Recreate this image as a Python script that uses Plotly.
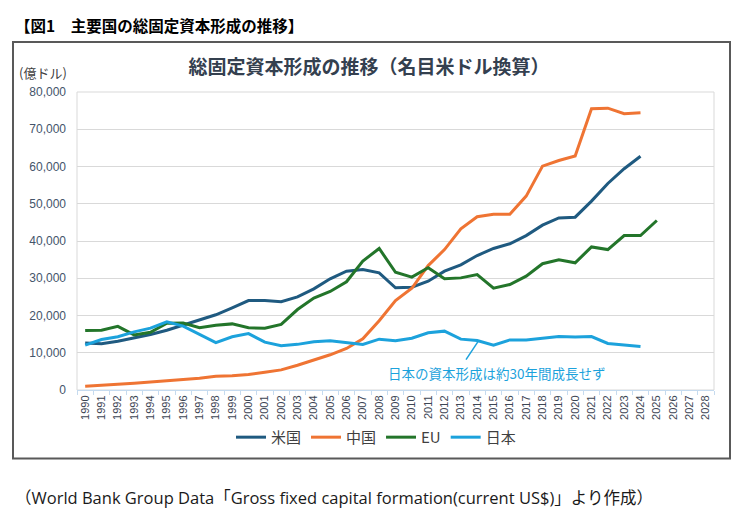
import plotly.graph_objects as go

# categories on the x axis (1990-2028)
years = [str(y) for y in range(1990, 2029)]

# gross fixed capital formation, 100 million US$
us = [12600, 12400, 13100, 13900, 14900, 16050, 17400, 18750, 20200, 22050,
      24000, 24050, 23700, 25000, 27150, 29850, 31900, 32350, 31450, 27450,
      27600, 29200, 31900, 33600, 36100, 38000, 39250, 41450, 44250, 46200,
      46400, 50700, 55450, 59400, 62750]
china = [1020, 1200, 1550, 1830, 2100, 2550, 2820, 3170, 3700, 3800,
         4150, 4780, 5400, 6650, 8100, 9450, 11150, 13750, 18600, 24000,
         27300, 33400, 37700, 43250, 46500, 47200, 47200, 52050, 60100, 61600,
         62800, 75500, 75650, 74150, 74400]
eu = [15950, 16050, 17100, 14800, 15500, 17950, 18000, 16700, 17400, 17750,
      16700, 16600, 17600, 21600, 24700, 26450, 29050, 34600, 38000, 31600,
      30300, 32800, 29850, 30100, 31000, 27350, 28300, 30550, 33900, 34950,
      34150, 38400, 37700, 41450, 41450, 45500]
japan = [12050, 13550, 14300, 15600, 16600, 18300, 17150, 14900, 12700, 14300,
         15150, 12850, 11900, 12250, 12950, 13200, 12700, 12250, 13650, 13200,
         13900, 15350, 15800, 13650, 13300, 12050, 13450, 13450, 13900, 14350,
         14200, 14350, 12500, 12200, 11700]

series = [
    ('米国', us, '#1f5a80'),
    ('中国', china, '#ef7433'),
    ('EU', eu, '#23752a'),
    ('日本', japan, '#1ca2dc'),
]

# the page puts the figure 8px in from the top-left corner
OFF = 8
W, H = 752 - OFF, 520 - OFF
L, R, T, B = 77 - OFF, 714 - OFF, 92 - OFF, 390.5 - OFF


def px(x):
    return (x - OFF - L) / (R - L)


def py(y):
    return (B - (y - OFF)) / (B - T)


jp = 'Noto Sans CJK JP'

fig = go.Figure()
for name, vals, col in series:
    fig.add_trace(go.Scatter(
        x=years[:len(vals)], y=vals, name=name, mode='lines',
        line=dict(color=col, width=3),
    ))

fig.update_layout(
    width=W, height=H,
    margin=dict(l=L, r=W - R, t=T, b=H - B),
    paper_bgcolor='white', plot_bgcolor='white',
    font=dict(family=jp, color='#404040'),
    title=dict(text='総固定資本形成の推移（名目米ドル換算）', x=(369 - OFF) / W, y=1 - (67 - OFF) / H,
               xanchor='center', yanchor='middle',
               font=dict(size=19, color='#34404f', family=jp, weight='bold')),
    showlegend=True,
    legend=dict(orientation='h', x=px(376), y=py(438), xanchor='center', yanchor='middle',
                font=dict(size=15, color='#404040', family=jp), itemwidth=30,
                bgcolor='rgba(0,0,0,0)'),
)

fig.update_xaxes(
    type='category', categoryorder='array', categoryarray=years,
    range=[-0.5, len(years) - 0.5],
    tickangle=-90, tickfont=dict(size=11, color='#3d4654', family='Liberation Sans'),
    showgrid=False, showline=True, linecolor='#c6dbef', linewidth=1,
    ticks='outside', tickson='boundaries', ticklen=4, tickcolor='#c6dbef',
)
fig.update_yaxes(
    range=[0, 80000], dtick=10000, tickformat=',',
    tickfont=dict(size=12, color='#44546a', family='Liberation Sans'),
    showgrid=True, gridcolor='#d9d9d9', gridwidth=1,
    zeroline=False, showline=False, ticklabelstandoff=10,
)

# plot-area border and outer frame
fig.add_shape(type='rect', xref='paper', yref='paper', x0=0, x1=1, y0=0, y1=1,
              line=dict(color='#d9d9d9', width=1), layer='below')
fig.add_shape(type='rect', xref='paper', yref='paper',
              x0=px(13), x1=px(730), y0=py(459), y1=py(42),
              line=dict(color='#595959', width=2))

# leader line for the note about Japan
fig.add_shape(type='line', xref='paper', yref='paper',
              x0=px(466), y0=py(360), x1=px(478), y1=py(342),
              line=dict(color='#1ca2dc', width=1.5))

notes = [
    ('【図1　主要国の総固定資本形成の推移】', 13, 25, 15.5, '#000000', 'left', 'bold', jp),
    ('(億ドル)', 17, 72, 13, '#404040', 'left', 'normal', jp),
    ('日本の資本形成は約30年間成長せず', 497, 373, 13.5, '#1ca2dc', 'center', 'normal', jp),
    ('（World Bank Group Data「Gross fixed capital formation(current US$)」より作成）',
     13, 498, 16.5, '#1a1a1a', 'left', 'normal', 'Open Sans, ' + jp),
]
for text, x, y, size, col, anchor, weight, fam in notes:
    fig.add_annotation(text=text, xref='paper', yref='paper', x=px(x), y=py(y),
                       xanchor=anchor, yanchor='middle', showarrow=False,
                       font=dict(size=size, color=col, family=fam, weight=weight))

fig.write_html('out.html')
